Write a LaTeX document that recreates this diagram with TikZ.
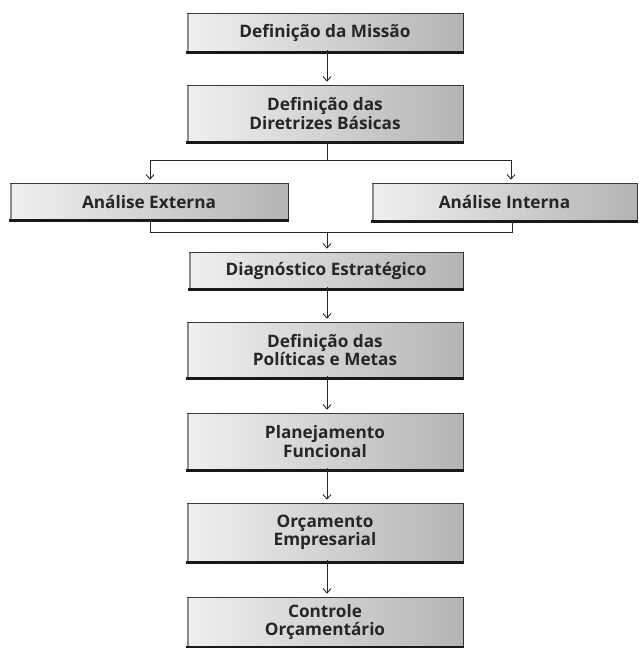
\documentclass[tikz,border=0pt]{standalone}
\usepackage{fontspec}
\setmainfont{Open Sans}
\usetikzlibrary{arrows.meta}
\definecolor{boxleft}{HTML}{F0F0F0}
\definecolor{boxright}{HTML}{B4B4B4}
\definecolor{edge}{HTML}{3A3A3A}
\tikzset{
  pbox/.style={draw=edge, line width=0.6pt, left color=boxleft, right color=boxright,
    align=center, inner sep=0pt, font=\fontsize{17.2}{18.5}\selectfont\bfseries, text=black!85},
  conn/.style={line width=0.9pt, draw=black!85},
  arr/.style={conn, -{Straight Barb[length=4.5pt,width=8pt,line width=0.9pt]}},
  base/.style={line width=2.4pt, draw=black!90},
  side/.style={line width=1.1pt, draw=black!80},
  lside/.style={line width=1.6pt, draw=black!45}
}
\begin{document}
\begin{tikzpicture}[x=1pt,y=-1pt]
\useasboundingbox (0,0) rectangle (639,648);
\fill[white] (0,0) rectangle (639,648);

\node[pbox, minimum width=276, minimum height=39] (m) at (325,32.5) {Definição da Missão};
\node[pbox, minimum width=276, minimum height=57] (d) at (325,113.5) {Definição das\\Diretrizes Básicas};
\node[pbox, minimum width=278, minimum height=37] (ae) at (149,201.5) {Análise Externa};
\node[pbox, minimum width=265, minimum height=38] (ai) at (504.5,202) {Análise Interna};
\node[pbox, minimum width=274, minimum height=37] (ds) at (326,270.5) {Diagnóstico Estratégico};
\node[pbox, minimum width=276, minimum height=56] (pm) at (325,350) {Definição das\\Políticas e Metas};
\node[pbox, minimum width=276, minimum height=57] (pf) at (325,441.5) {Planejamento\\Funcional};
\node[pbox, minimum width=276, minimum height=59] (oe) at (325,532.5) {Orçamento\\Empresarial};
\node[pbox, minimum width=276, minimum height=50] (co) at (325,622) {Controle\\Orçamentário};

\foreach \n in {m,d,ae,ai,ds,pm,pf,oe,co}{
  \draw[lside] ([xshift=1pt,yshift=-1pt]\n.north west) -- ([xshift=1pt,yshift=1pt]\n.south west);
  \draw[side] (\n.north east) -- (\n.south east);
  \draw[base] ([xshift=-1pt]\n.south west) -- ([xshift=1pt]\n.south east);
}

% coordinates for branching
\coordinate (split) at (327,160);
\coordinate (sl) at (150,160);
\coordinate (sr) at (511,160);
\coordinate (jl) at (150,232);
\coordinate (jr) at (512,232);
\coordinate (jc) at (327,232);

\draw[arr] ([xshift=2pt,yshift=2pt]m.south) -- ([xshift=2pt,yshift=3pt]d.north);
\draw[conn] ([xshift=2pt,yshift=1pt]d.south) -- (split);
\draw[conn] (sl) -- (sr);
\draw[arr] (sl) -- ([yshift=3pt]sl |- ae.north);
\draw[arr] (sr) -- ([yshift=3pt]sr |- ai.north);
\draw[conn] (jl |- ae.south) -- (jl) -- (jr) -- (jr |- ai.south);
\draw[arr] (jc) -- ([yshift=3pt]jc |- ds.north);
\draw[arr] ([xshift=1pt,yshift=2pt]ds.south) -- ([xshift=1pt,yshift=3pt]ds.south |- pm.north);
\draw[arr] ([xshift=2pt,yshift=2pt]pm.south) -- ([xshift=2pt,yshift=3pt]pf.north);
\draw[arr] ([xshift=2pt,yshift=2pt]pf.south) -- ([xshift=2pt,yshift=3pt]oe.north);
\draw[arr] ([xshift=2pt,yshift=2pt]oe.south) -- ([xshift=2pt,yshift=3pt]co.north);
\end{tikzpicture}
\end{document}
